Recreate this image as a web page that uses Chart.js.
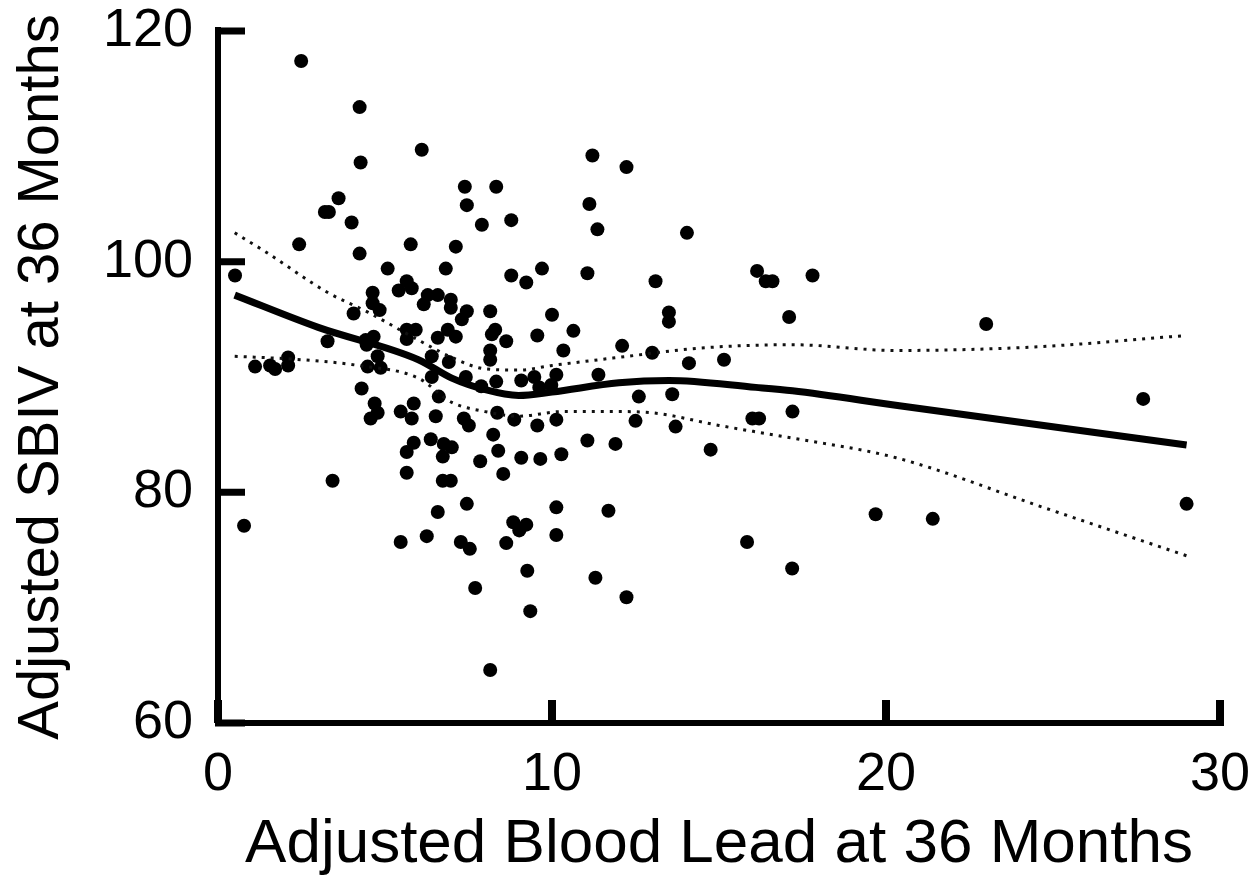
<!DOCTYPE html>
<html>
<head>
<meta charset="utf-8">
<script src="https://cdn.jsdelivr.net/npm/chart.js@4"></script>
<style>
    body { margin: 0; background: #fff; }
    #wrap { width: 1255px; height: 876px; }
</style>
</head>
<body>
<div id="wrap"><canvas id="chart" width="1255" height="876"></canvas></div>
<script>
// blood lead (x) and SBIV score (y) for each child
const leadValues = [
    2.49, 4.24, 4.27, 6.1, 3.61, 3.2, 3.32, 4.0, 2.43, 4.24, 5.77,
    11.21, 7.39, 8.33, 11.12, 7.45, 7.9, 8.78, 11.36, 7.12,
    12.23, 14.04, 13.1, 13.5, 13.5, 16.14, 16.4, 16.6, 17.8, 17.1, 12.1, 13.0,
    14.1, 15.15, 12.6, 13.6, 12.5, 13.7, 16.0, 16.2, 17.2, 11.9, 14.75,
    12.23, 15.84, 17.19, 19.69, 23.0, 27.7, 21.4, 29.0,
    3.43, 0.78, 5.47, 5.65,
    6.73, 6.97, 8.54, 7.45, 6.58, 10.13, 11.69, 8.84, 9.23, 9.02, 6.25, 7.27,
    7.54, 8.63, 10.13, 9.26, 11.3, 7.7, 9.35, 8.15,
    0.51, 5.08, 5.65, 5.41, 5.8, 4.63, 4.63, 4.84, 4.06, 5.65, 5.92, 3.28,
    4.42, 4.66, 4.45, 4.78, 5.65, 2.1, 2.1, 1.56, 1.71, 1.11, 4.48, 4.87,
    4.3, 4.69, 4.78, 4.57, 5.47, 5.86, 5.8, 5.86, 5.65,
    6.82, 8.78, 9.23, 9.7, 11.06, 6.28, 6.58, 6.16, 6.97, 6.97, 7.45, 7.3,
    8.15, 10.0, 8.3, 8.2, 6.88, 7.12, 6.58, 8.63, 9.56, 10.64, 10.34, 8.15,
    8.15, 6.4, 6.91, 6.4, 7.42, 8.33, 7.88, 9.08, 9.47, 10.13, 9.62, 9.98,
    11.39, 6.61, 6.52, 7.36, 7.51, 8.36, 8.87, 9.56, 10.13, 8.24, 6.37, 6.76,
    7.0, 6.73, 8.39, 7.85, 9.08, 9.65, 10.28, 11.06,
];
const sbivValues = [
    117.4, 113.4, 108.6, 109.7, 105.5, 104.3, 104.3, 103.4, 101.5, 100.7, 101.5,
    109.2, 106.5, 106.5, 105.0, 104.9, 103.2, 103.6, 102.8, 101.3,
    108.2, 102.5, 98.3, 95.6, 94.8, 99.2, 98.3, 98.3, 98.8, 95.2, 92.7, 92.1,
    91.2, 91.5, 88.3, 88.5, 86.2, 85.7, 86.4, 86.4, 87.0, 84.2, 83.7,
    70.9, 75.7, 73.4, 78.1, 94.6, 88.1, 77.7, 79.0,
    81.0, 77.1, 75.7, 81.7,
    81.0, 81.0, 81.6, 79.0, 78.3, 78.7, 78.4, 77.4, 77.2, 76.7, 76.2, 75.7,
    75.1, 75.6, 76.3, 73.2, 72.6, 71.7, 69.7, 64.6,
    98.8, 99.4, 98.3, 97.5, 97.7, 97.3, 96.4, 95.8, 95.5, 94.1, 94.1, 93.1,
    93.2, 93.5, 92.8, 91.8, 93.3, 91.7, 91.0, 91.0, 90.7, 90.9, 90.9, 90.8,
    89.0, 87.7, 86.9, 86.4, 87.0, 87.7, 86.4, 84.3, 83.5,
    99.4, 98.8, 98.2, 99.4, 99.0, 97.1, 97.1, 96.3, 96.7, 96.0, 95.7, 95.0,
    95.7, 95.4, 94.1, 93.7, 94.1, 93.5, 93.4, 93.1, 93.6, 94.0, 92.3, 92.3,
    91.5, 91.8, 91.3, 90.0, 90.0, 89.6, 89.2, 89.7, 90.0, 90.2, 89.1, 89.3,
    90.2, 88.3, 86.6, 86.4, 85.8, 86.9, 86.3, 85.8, 86.3, 85.0, 84.6, 84.2,
    83.9, 83.1, 83.6, 82.7, 83.0, 82.9, 83.3, 84.5,
];

// smoothed fit and its confidence band
const fitX = [0.5, 3.0, 6.0, 7.0, 8.0, 9.0, 10.0, 12.0, 13.5, 16.1, 17.2, 20.4, 29.0];
const fitY = [97.1, 94.3, 91.5, 89.9, 88.9, 88.4, 88.7, 89.5, 89.7, 89.1, 88.8, 87.5, 84.1];
const upperX = [0.5, 1.4, 3.3, 4.5, 6.0, 7.0, 8.0, 9.0, 10.0, 12.0, 14.4, 17.2, 20.3, 24.4, 29.0];
const upperY = [102.5, 100.9, 97.3, 95.6, 93.2, 91.7, 90.7, 90.6, 91.0, 91.7, 92.5, 92.8, 92.3, 92.6, 93.6];
const lowerX = [0.5, 2.5, 4.2, 6.0, 7.0, 8.0, 9.0, 10.3, 12.0, 13.0, 15.0, 17.0, 20.3, 24.7, 29.0];
const lowerY = [91.8, 91.5, 91.0, 89.9, 87.8, 87.0, 86.6, 87.0, 87.0, 86.9, 85.8, 84.8, 83.0, 78.7, 74.5];

const xTicks = [0, 10, 20, 30];
const yTicks = [60, 80, 100, 120];

const pairs = (xs, ys) => xs.map((x, i) => ({ x: x, y: ys[i] }));

// keep the tick labels from pushing the plot area around
const noPadding = (scale) => {
    scale.paddingTop = 0;
    scale.paddingBottom = 0;
    scale.paddingLeft = 0;
    scale.paddingRight = 0;
};

// axes with inward ticks, like the original figure
const axesPlugin = {
    id: "axes",
    afterDraw(chart) {
        const ctx = chart.ctx;
        const xs = chart.scales.x;
        const ys = chart.scales.y;
        const x0 = xs.getPixelForValue(0);
        const x1 = xs.getPixelForValue(30);
        const y0 = ys.getPixelForValue(60);
        const y1 = ys.getPixelForValue(120);
        ctx.save();
        ctx.strokeStyle = "#000";
        ctx.lineCap = "butt";
        ctx.lineWidth = 6;
        ctx.beginPath();
        ctx.moveTo(x0, y1 - 4);
        ctx.lineTo(x0, y0 + 3);
        ctx.moveTo(x0 - 3, y0);
        ctx.lineTo(x1 + 4, y0);
        ctx.stroke();
        ctx.lineWidth = 7;
        ctx.beginPath();
        yTicks.forEach((v) => {
            const py = ys.getPixelForValue(v);
            ctx.moveTo(x0 - 3, py);
            ctx.lineTo(x0 + 27, py);
        });
        ctx.stroke();
        ctx.lineWidth = 8;
        ctx.beginPath();
        xTicks.forEach((v) => {
            const px = xs.getPixelForValue(v);
            ctx.moveTo(px, y0);
            ctx.lineTo(px, y0 - 23);
        });
        ctx.stroke();
        ctx.restore();
    },
};

const bandStyle = {
    type: "line",
    borderColor: "#111",
    borderWidth: 3,
    borderDash: [3, 6],
    pointRadius: 0,
    fill: false,
    cubicInterpolationMode: "monotone",
};

new Chart(document.querySelector("#chart"), {
    type: "scatter",
    data: {
        datasets: [
            {
                label: "fit",
                type: "line",
                data: pairs(fitX, fitY),
                borderColor: "#000",
                borderWidth: 7,
                pointRadius: 0,
                fill: false,
                cubicInterpolationMode: "monotone",
            },
            { ...bandStyle, label: "upper", data: pairs(upperX, upperY) },
            { ...bandStyle, label: "lower", data: pairs(lowerX, lowerY) },
            {
                label: "children",
                data: pairs(leadValues, sbivValues),
                backgroundColor: "#000",
                borderWidth: 0,
                pointRadius: 7,
            },
        ],
    },
    options: {
        responsive: false,
        animation: false,
        layout: { padding: { top: 31, right: 35, left: 0, bottom: 0 } },
        plugins: { legend: { display: false }, tooltip: { enabled: false } },
        scales: {
            x: {
                type: "linear",
                min: 0,
                max: 30,
                afterFit: (scale) => { scale.height = 153; noPadding(scale); },
                afterBuildTicks: (scale) => { scale.ticks = xTicks.map((v) => ({ value: v })); },
                grid: { display: false, drawTicks: false },
                border: { display: false },
                ticks: {
                    color: "#000",
                    padding: 20,
                    autoSkip: false,
                    maxRotation: 0,
                    font: { family: "Liberation Sans", size: 54 },
                },
                title: {
                    display: true,
                    text: "Adjusted Blood Lead at 36 Months",
                    color: "#000",
                    padding: { top: 0, bottom: 0 },
                    font: { family: "Liberation Sans", size: 62, lineHeight: 1 },
                },
            },
            y: {
                type: "linear",
                min: 60,
                max: 120,
                afterFit: (scale) => { scale.width = 218; noPadding(scale); },
                afterBuildTicks: (scale) => { scale.ticks = yTicks.map((v) => ({ value: v })); },
                grid: { display: false, drawTicks: false },
                border: { display: false },
                ticks: {
                    color: "#000",
                    padding: 25,
                    font: { family: "Liberation Sans", size: 54 },
                },
                title: {
                    display: true,
                    text: "Adjusted SBIV at 36 Months",
                    color: "#000",
                    padding: { top: 13, bottom: 0 },
                    font: { family: "Liberation Sans", size: 58, lineHeight: 1 },
                },
            },
        },
    },
    plugins: [axesPlugin],
});
</script>
</body>
</html>
